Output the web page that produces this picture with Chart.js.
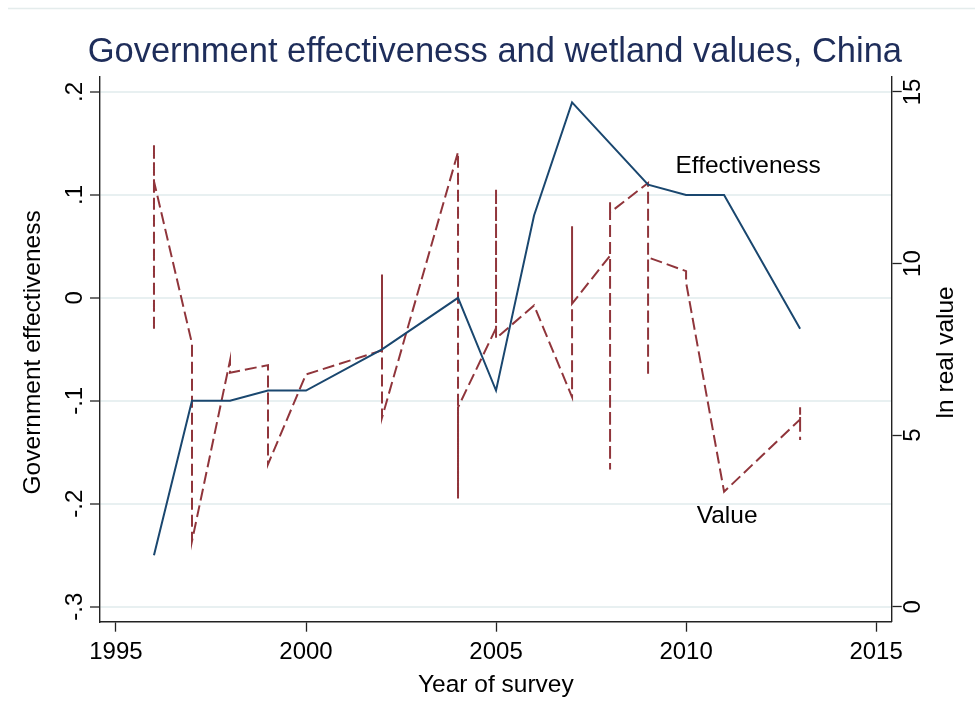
<!DOCTYPE html>
<html>
<head>
<meta charset="utf-8">
<title>Government effectiveness and wetland values, China</title>
<script src="https://cdn.jsdelivr.net/npm/chart.js@4.4.1/dist/chart.umd.min.js"></script>
<style>
  html, body { margin: 0; padding: 0; background: #fff; }
  #wrap { width: 975px; height: 711px; }
</style>
</head>
<body>
<div id="wrap"><canvas id="govChart" width="975" height="711"></canvas></div>
<script>
// Effectiveness (left axis), one point per survey year
const effYears = [1996, 1997, 1998, 1999, 2000, 2002, 2004, 2005, 2006, 2007, 2009, 2010, 2011, 2013];
const effValues = [-0.25, -0.10, -0.10, -0.09, -0.09, -0.05, 0.00, -0.09, 0.08, 0.19, 0.11, 0.10, 0.10, -0.03];

// ln real value (right axis), several observations per year, in data order
const valueYears = [1996, 1996, 1996, 1997, 1997, 1998, 1998, 1999, 1999, 2000,
                    2002, 2002, 2002, 2004, 2004, 2004, 2005, 2005, 2005, 2006,
                    2007, 2007, 2007, 2008, 2008, 2008, 2008, 2009, 2009, 2009,
                    2010, 2010, 2011, 2013, 2013, 2013];
const lnValues = [8.10, 13.50, 12.40, 7.67, 1.91, 7.17, 6.82, 7.04, 4.15, 6.77,
                  7.47, 9.68, 5.51, 13.25, 3.15, 5.81, 8.12, 12.19, 7.82, 8.78,
                  6.11, 11.09, 8.83, 10.23, 4.00, 11.79, 11.49, 12.35, 6.72, 10.18,
                  9.78, 9.45, 3.35, 5.46, 5.81, 4.86];

const yearTicks = [1995, 2000, 2005, 2010, 2015];
const effTicks = [-0.3, -0.2, -0.1, 0, 0.1, 0.2];
const effTickLabels = ['-.3', '-.2', '-.1', '0', '.1', '.2'];
const lnTicks = [0, 5, 10, 15];

const FONT = '"Liberation Sans", Arial, Helvetica, sans-serif';
const blue = '#1a476f';
const maroon = '#90353b';

// draws the Stata-style text: title, rotated tick labels, axis titles, line labels
const textPlugin = {
  id: 'stataText',
  beforeDraw(chart) {
    const c = chart.ctx;
    c.save();
    c.strokeStyle = '#e4ecec';
    c.lineWidth = 1.5;
    c.beginPath();
    c.moveTo(8, 8.5);
    c.lineTo(975, 8.5);
    c.stroke();
    c.restore();
  },
  afterDraw(chart) {
    const c = chart.ctx;
    const { x, y, y2 } = chart.scales;
    const area = chart.chartArea;
    const midX = (area.left + area.right) / 2;
    const midY = (area.top + area.bottom) / 2;

    c.save();
    c.textAlign = 'center';
    c.textBaseline = 'middle';

    // title
    c.fillStyle = '#1e2d5a';
    c.font = '34.5px ' + FONT;
    c.fillText('Government effectiveness and wetland values, China', midX - 1, 52);

    c.fillStyle = '#000';
    c.font = '24px ' + FONT;

    // x tick labels + title
    yearTicks.forEach(v => c.fillText(String(v), x.getPixelForValue(v), 652));
    c.font = '24.5px ' + FONT;
    c.fillText('Year of survey', midX, 685);

    // rotated y tick labels
    const vText = (txt, px, py) => {
      c.save();
      c.translate(px, py);
      c.rotate(-Math.PI / 2);
      c.fillText(txt, 0, 0);
      c.restore();
    };
    c.font = '24px ' + FONT;
    effTicks.forEach((v, i) => vText(effTickLabels[i], 75, y.getPixelForValue(v)));
    lnTicks.forEach(v => vText(String(v), 913, y2.getPixelForValue(v)));
    c.font = '24.5px ' + FONT;
    vText('Government effectiveness', 33, midY + 3);
    vText('ln real value', 946, midY + 3);

    // line labels at data positions
    c.textAlign = 'left';
    c.fillText('Effectiveness', x.getPixelForValue(2009.72), y.getPixelForValue(0.128));
    c.fillText('Value', x.getPixelForValue(2010.28), y.getPixelForValue(-0.212));
    c.restore();
  }
};

function fixedTicks(list) {
  return scale => { scale.ticks = list.map(v => ({ value: v })); };
}

window.onload = () => {
  const ctx = document.getElementById('govChart').getContext('2d');
  new Chart(ctx, {
    type: 'line',
    data: {
      datasets: [{
        label: 'Effectiveness',
        data: effYears.map((yr, i) => ({ x: yr, y: effValues[i] })),
        yAxisID: 'y',
        borderColor: blue,
        borderWidth: 2,
        pointRadius: 0,
        tension: 0,
        fill: false
      }, {
        label: 'Value',
        data: valueYears.map((yr, i) => ({ x: yr, y: lnValues[i] })),
        yAxisID: 'y2',
        borderColor: maroon,
        borderWidth: 2,
        borderDash: [12, 5],
        pointRadius: 0,
        tension: 0,
        fill: false
      }]
    },
    options: {
      responsive: false,
      animation: false,
      events: [],
      layout: { padding: { top: 77, left: 0, right: 0, bottom: 0 } },
      plugins: {
        legend: { display: false },
        title: { display: false },
        tooltip: { enabled: false }
      },
      scales: {
        x: {
          type: 'linear',
          min: 1994.58,
          max: 2015.41,
          afterBuildTicks: fixedTicks(yearTicks),
          afterFit: s => { s.height = 89.3; },
          ticks: { display: false },
          grid: { drawOnChartArea: false, drawTicks: true, tickLength: 10, tickColor: '#222', tickWidth: 1.3 },
          border: { display: true, color: '#222', width: 1.4 }
        },
        y: {
          position: 'left',
          min: -0.3146,
          max: 0.2146,
          afterBuildTicks: fixedTicks(effTicks),
          afterFit: s => { s.width = 100; },
          ticks: { display: false },
          grid: { color: '#e8f0f1', lineWidth: 2, drawTicks: true, tickLength: 10, tickColor: '#222', tickWidth: 1.3 },
          border: { display: true, color: '#222', width: 1.4 }
        },
        y2: {
          position: 'right',
          min: -0.437,
          max: 15.437,
          afterBuildTicks: fixedTicks(lnTicks),
          afterFit: s => { s.width = 83.3; },
          ticks: { display: false },
          grid: { drawOnChartArea: false, drawTicks: true, tickLength: 10, tickColor: '#222', tickWidth: 1.3 },
          border: { display: true, color: '#222', width: 1.4 }
        }
      }
    },
    plugins: [textPlugin]
  });
};
</script>
</body>
</html>
